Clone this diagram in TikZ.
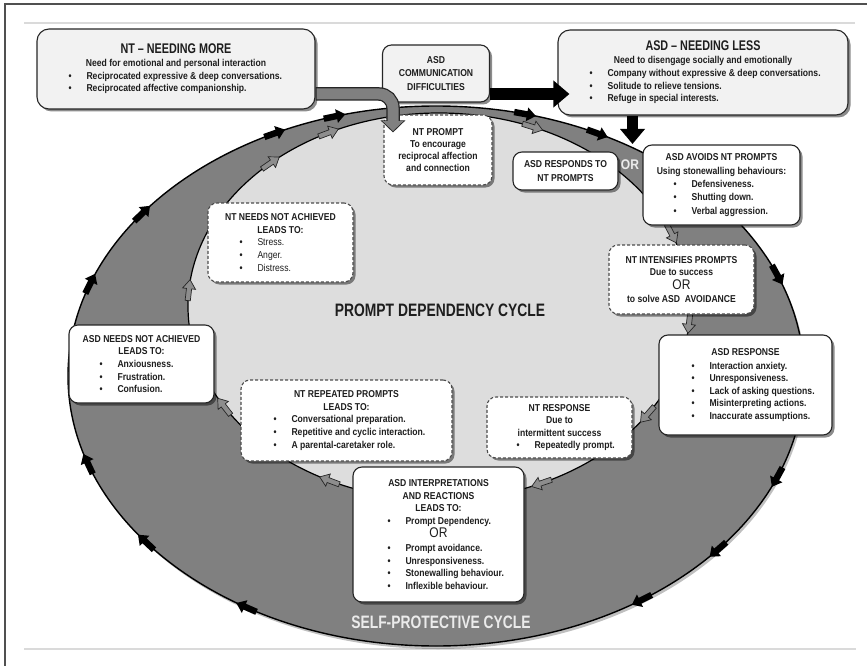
\documentclass[tikz,border=0pt]{standalone}
\usepackage{fontspec}
\setmainfont{Liberation Sans}[FakeStretch=0.86]
\newfontfamily\narrowfont{Liberation Sans}[FakeStretch=0.77]
\usetikzlibrary{arrows.meta,shadows,calc}
\definecolor{bandgray}{HTML}{808080}
\definecolor{innergray}{HTML}{DDDDDD}
\definecolor{boxgray}{HTML}{F2F2F2}
\definecolor{txt}{HTML}{1E1E1E}
\definecolor{framegray}{HTML}{505050}
\definecolor{rulegray}{HTML}{DADADA}
\newcommand{\bul}[2]{\makebox[#1][l]{\textbullet\hspace{15pt}#2}}
\newcommand{\bigor}{{\fontsize{14}{14}\selectfont\mdseries OR}}
\newcommand{\bigtitle}[1]{{\narrowfont\fontsize{14}{15}\selectfont\bfseries #1}}
\tikzset{
  solidbox/.style={draw=black!85, line width=1.1pt, rounded corners=9pt, fill=white,
    drop shadow={shadow xshift=2.5pt, shadow yshift=-2.5pt, opacity=0.45, fill=black},
    font=\fontsize{10}{12.6}\selectfont\bfseries, text=txt, align=center, inner sep=0pt},
  dashbox/.style={solidbox, draw=black!70, dash pattern=on 3pt off 2pt},
  graybox/.style={solidbox, fill=boxgray, rounded corners=12pt},
  blkarr/.pic={\fill[black] (-11,-3.2) -- (2,-3.2) -- (2,-7) -- (11,0) -- (2,7) -- (2,3.2) -- (-11,3.2) -- cycle;},
  grayarr/.pic={\filldraw[fill=bandgray!90, draw=black!85, line width=0.7pt] (-11,-2.6) -- (1,-2.6) -- (1,-6.5) -- (10,0) -- (1,6.5) -- (1,2.6) -- (-11,2.6) -- cycle;}
}
\begin{document}
\begin{tikzpicture}[x=1pt,y=-1pt]
\useasboundingbox (0,0) rectangle (867,666);
% frame
\draw[framegray, line width=1.5pt] (5,666) -- (5,4) -- (867,4);
\draw[rulegray, line width=1.8pt] (24,23) -- (855,23);
\draw[rulegray, line width=1.8pt] (24,649) -- (856,649);
% cycles
\fill[black, opacity=0.25] (438,379) ellipse (368 and 270);
\filldraw[fill=bandgray, draw=black, line width=1.4pt] (436,376) ellipse (368 and 270);
\filldraw[fill=innergray, draw=black, line width=1.2pt] (439,306.5) ellipse (251 and 193.5);
% arrows on the outer cycle
\foreach \t in {200,217,244,254,284,296,338,22,40,56,121,142,161}{
  \pgfmathsetmacro\px{436+368*cos(\t)}
  \pgfmathsetmacro\py{376+270*sin(\t)}
  \pgfmathsetmacro\ang{atan2(-270*cos(\t),-368*sin(\t))}
  \pic[rotate=\ang] at (\px,\py) {blkarr};
}
% arrows on the inner cycle
\foreach \t in {185,228,244,292,338,5,34,66,116,149}{
  \pgfmathsetmacro\px{439+251*cos(\t)}
  \pgfmathsetmacro\py{306.5+193.5*sin(\t)}
  \pgfmathsetmacro\ang{atan2(-193.5*cos(\t),-251*sin(\t))}
  \pic[rotate=\ang] at (\px,\py) {grayarr};
}
% cycle labels
\node[font=\narrowfont\fontsize{18}{20}\selectfont\bfseries, text=txt] (pdc) at (440,310) {PROMPT DEPENDENCY CYCLE};
\node[font=\narrowfont\fontsize{18}{20}\selectfont\bfseries, text=black!8] (spc) at (441,622) {SELF-PROTECTIVE CYCLE};
% boxes
\node[graybox, minimum width=278pt, minimum height=80pt] (ntmore) at (176,69)
  {\bigtitle{NT – NEEDING MORE}\\[0.5pt]
   Need for emotional and personal interaction\\
   \bul{215pt}{Reciprocated expressive \& deep conversations.}\\
   \bul{215pt}{Reciprocated affective companionship.}};
\node[graybox, rounded corners=9pt, minimum width=107pt, minimum height=57pt,
  font=\fontsize{10}{13.5}\selectfont\bfseries] (asdcomm) at (436,73.5)
  {ASD\\COMMUNICATION\\DIFFICULTIES};
\node[graybox, minimum width=290pt, minimum height=85pt] (asdless) at (703,72.5)
  {\bigtitle{ASD – NEEDING LESS}\\[0.5pt]
   Need to disengage socially and emotionally\\
   \bul{227pt}{Company without expressive \& deep conversations.}\\
   \bul{227pt}{Solitude to relieve tensions.}\\
   \bul{227pt}{Refuge in special interests.}};
\node[dashbox, minimum width=108pt, minimum height=70pt,
  font=\fontsize{10}{12}\selectfont\bfseries] (ntprompt) at (438,150)
  {NT PROMPT\\To encourage\\reciprocal affection\\and connection};
\node[solidbox, minimum width=105pt, minimum height=38pt,
  font=\fontsize{10}{14}\selectfont\bfseries] (asdrespto) at (565.5,171)
  {ASD RESPONDS TO\\NT PROMPTS};
\node[solidbox, minimum width=157pt, minimum height=80pt,
  font=\fontsize{10}{13.3}\selectfont\bfseries] (asdavoid) at (721.5,185)
  {ASD AVOIDS NT PROMPTS\\Using stonewalling behaviours:\\
   \bul{96pt}{Defensiveness.}\\ \bul{96pt}{Shutting down.}\\ \bul{96pt}{Verbal aggression.}};
\node[dashbox, minimum width=145pt, minimum height=79pt] (ntneedsnot) at (280.5,242.5)
  {NT NEEDS NOT ACHIEVED\\LEADS TO:\\
   \bul{82pt}{\mdseries Stress.}\\ \bul{82pt}{\mdseries Anger.}\\ \bul{82pt}{\mdseries Distress.}};
\node[dashbox, minimum width=145pt, minimum height=69pt] (ntintens) at (681.5,279.5)
  {NT INTENSIFIES PROMPTS\\Due to success\\[1pt]\bigor\\[1pt]to solve ASD\ \ AVOIDANCE};
\node[solidbox, minimum width=173pt, minimum height=100pt] (asdresponse) at (745.5,385)
  {ASD RESPONSE\\[1pt]
   \bul{108pt}{Interaction anxiety.}\\ \bul{108pt}{Unresponsiveness.}\\
   \bul{108pt}{Lack of asking questions.}\\ \bul{108pt}{Misinterpreting actions.}\\
   \bul{108pt}{Inaccurate assumptions.}};
\node[solidbox, minimum width=145pt, minimum height=78pt] (asdneedsnot) at (141.5,364)
  {ASD NEEDS NOT ACHIEVED\\LEADS TO:\\
   \bul{84pt}{Anxiousness.}\\ \bul{84pt}{Frustration.}\\ \bul{84pt}{Confusion.}};
\node[dashbox, minimum width=211pt, minimum height=81pt] (ntrepeated) at (346.5,420.5)
  {NT REPEATED PROMPTS\\LEADS TO:\\
   \bul{146pt}{Conversational preparation.}\\ \bul{146pt}{Repetitive and cyclic interaction.}\\
   \bul{146pt}{A parental-caretaker role.}};
\node[dashbox, minimum width=145pt, minimum height=61pt] (ntresponse) at (559.5,427.5)
  {NT RESPONSE\\Due to\\intermittent success\\ \bul{86pt}{Repeatedly prompt.}};
\node[solidbox, minimum width=171pt, minimum height=135pt] (asdinterp) at (438.5,534.5)
  {ASD INTERPRETATIONS\\AND REACTIONS\\LEADS TO:\\
   \bul{102pt}{Prompt Dependency.}\\[1pt] \bigor\\[1pt]
   \bul{102pt}{Prompt avoidance.}\\ \bul{102pt}{Unresponsiveness.}\\
   \bul{102pt}{Stonewalling behaviour.}\\ \bul{102pt}{Inflexible behaviour.}};
% big connectors
\draw[black!85, line width=13.5pt, rounded corners=14pt, -{Triangle[width=24pt,length=12pt]}]
  ([yshift=-25pt]ntmore.east) -| ([xshift=-45pt,yshift=-18pt]ntprompt.north);
\draw[bandgray, line width=11pt, rounded corners=14pt, -{Triangle[width=20.5pt,length=10pt]}, shorten >=1.4pt]
  ([xshift=1pt,yshift=-25pt]ntmore.east) -| ([xshift=-45pt,yshift=-18pt]ntprompt.north);
\draw[black, line width=12.5pt, -{Triangle[width=26pt,length=16pt]}]
  ([yshift=-20.5pt]asdcomm.east) -- ([xshift=12pt,yshift=-21.5pt]asdless.west);
\coordinate (orpt) at (632.5,144);
\draw[black, line width=11pt, -{Triangle[width=24pt,length=15pt]}]
  ([xshift=-70.5pt]asdless.south) -- (orpt);
\node[font=\fontsize{14}{16}\selectfont\bfseries, text=black!8] (ortext) at (630,165) {OR};
\end{tikzpicture}
\end{document}
